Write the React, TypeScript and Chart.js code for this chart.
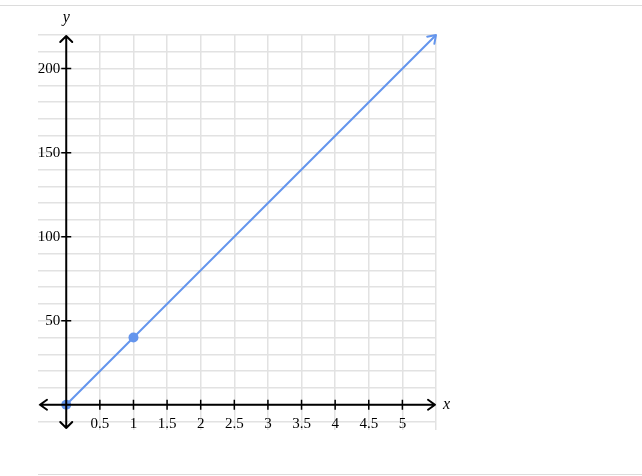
import React, { useEffect, useRef } from "react";
import { Chart, registerables } from "chart.js";

Chart.register(...registerables);

const linePoints = [
  { x: 0, y: 0 },
  { x: 5.5, y: 220 },
];
const markedPoints = [
  { x: 0, y: 0 },
  { x: 1, y: 40 },
];
const xTickLabels = [0.5, 1, 1.5, 2, 2.5, 3, 3.5, 4, 4.5, 5];
const yTickLabels = [50, 100, 150, 200];
const xGrid = [0.5, 1, 1.5, 2, 2.5, 3, 3.5, 4, 4.5, 5, 5.5];
const yGrid = [-10, 0, 10, 20, 30, 40, 50, 60, 70, 80, 90, 100, 110, 120, 130, 140, 150, 160, 170, 180, 190, 200, 210, 220];
const X_MIN = -0.42;
const X_MAX = 5.5;
const Y_MIN = -15;
const Y_MAX = 220;

const BLUE = "#6495ed";
const FONT = '15px "Liberation Serif", "DejaVu Serif", serif';
const FONT_IT = 'italic 16px "Liberation Serif", "DejaVu Serif", serif';

const axesPlugin = {
  id: "axesPlugin",
  beforeDraw(chart: any) {
    const ctx = chart.ctx;
    ctx.save();
    ctx.strokeStyle = "#dcdcdc";
    ctx.lineWidth = 1;
    ctx.beginPath();
    ctx.moveTo(0, 5.5);
    ctx.lineTo(642, 5.5);
    ctx.moveTo(38, 474.5);
    ctx.lineTo(642, 474.5);
    ctx.stroke();
    ctx.restore();
  },
  afterDatasetsDraw(chart: any) {
    const ctx = chart.ctx;
    const xs = chart.scales.x;
    const ys = chart.scales.y;
    const ca = chart.chartArea;
    const x0 = xs.getPixelForValue(0);
    const y0 = ys.getPixelForValue(0);
    ctx.save();
    ctx.strokeStyle = "#000";
    ctx.fillStyle = "#000";
    ctx.lineWidth = 2;
    ctx.lineCap = "round";
    ctx.lineJoin = "round";
    // x axis
    const xl = ca.left + 2;
    const xr = ca.right - 1;
    ctx.beginPath();
    ctx.moveTo(xl, y0);
    ctx.lineTo(xr, y0);
    ctx.moveTo(xl + 7, y0 - 5);
    ctx.lineTo(xl, y0);
    ctx.lineTo(xl + 7, y0 + 5);
    ctx.moveTo(xr - 7, y0 - 5);
    ctx.lineTo(xr, y0);
    ctx.lineTo(xr - 7, y0 + 5);
    // y axis
    const yt = ca.top + 1;
    const yb = ca.bottom - 2;
    ctx.moveTo(x0, yt);
    ctx.lineTo(x0, yb);
    ctx.moveTo(x0 - 6, yt + 6);
    ctx.lineTo(x0, yt);
    ctx.lineTo(x0 + 6, yt + 6);
    ctx.moveTo(x0 - 6, yb - 6);
    ctx.lineTo(x0, yb);
    ctx.lineTo(x0 + 6, yb - 6);
    ctx.stroke();

    // ticks
    ctx.lineWidth = 1.5;
    ctx.lineCap = "butt";
    ctx.beginPath();
    xTickLabels.forEach((v) => {
      const px = xs.getPixelForValue(v);
      ctx.moveTo(px, y0 - 5);
      ctx.lineTo(px, y0 + 5);
    });
    yTickLabels.forEach((v) => {
      const py = ys.getPixelForValue(v);
      ctx.moveTo(x0 - 5, py);
      ctx.lineTo(x0 + 5, py);
    });
    ctx.stroke();

    ctx.font = FONT;
    ctx.textAlign = "center";
    ctx.textBaseline = "alphabetic";
    xTickLabels.forEach((v) => {
      const px = xs.getPixelForValue(v);
      ctx.fillText(String(v), px, y0 + 23);
    });
    ctx.textAlign = "right";
    ctx.textBaseline = "middle";
    yTickLabels.forEach((v) => {
      const py = ys.getPixelForValue(v);
      ctx.fillText(String(v), x0 - 6, py);
    });
    ctx.font = FONT_IT;
    ctx.textAlign = "left";
    ctx.fillText("x", ca.right + 7, y0);
    ctx.textAlign = "center";
    ctx.fillText("y", x0, 18);

    // arrowhead on the line end
    const p1 = linePoints[linePoints.length - 2];
    const p2 = linePoints[linePoints.length - 1];
    const ax = xs.getPixelForValue(p2.x);
    const ay = ys.getPixelForValue(p2.y);
    const bx = xs.getPixelForValue(p1.x);
    const by = ys.getPixelForValue(p1.y);
    const ang = Math.atan2(ay - by, ax - bx);
    const L = 9;
    ctx.strokeStyle = BLUE;
    ctx.lineWidth = 2;
    ctx.lineCap = "round";
    ctx.beginPath();
    ctx.moveTo(ax + L * Math.cos(ang + Math.PI - 0.6), ay + L * Math.sin(ang + Math.PI - 0.6));
    ctx.lineTo(ax, ay);
    ctx.lineTo(ax + L * Math.cos(ang + Math.PI + 0.6), ay + L * Math.sin(ang + Math.PI + 0.6));
    ctx.stroke();
    ctx.restore();
  },
};

export default function App() {
  const ref = useRef<HTMLCanvasElement | null>(null);
  useEffect(() => {
    if (!ref.current) return;
    const chart = new Chart(ref.current, {
      type: "scatter",
      data: {
        datasets: [
          {
            data: linePoints,
            showLine: true,
            borderColor: BLUE,
            borderWidth: 2,
            pointRadius: 0,
            fill: false,
          },
          {
            data: markedPoints,
            showLine: false,
            pointRadius: 5,
            pointBackgroundColor: BLUE,
            pointBorderColor: BLUE,
            pointBorderWidth: 0,
          },
        ],
      },
      options: {
        responsive: false,
        animation: false,
        layout: { padding: { left: 38, top: 35, right: 206, bottom: 46 } },
        plugins: { legend: { display: false }, tooltip: { enabled: false } },
        scales: {
          x: {
            type: "linear",
            min: X_MIN,
            max: X_MAX,
            afterBuildTicks: (scale: any) => {
              scale.ticks = xGrid.map((v) => ({ value: v }));
            },
            ticks: { display: false },
            border: { display: false },
            grid: { color: "#e2e2e2", lineWidth: 1.5, drawTicks: false },
          },
          y: {
            type: "linear",
            min: Y_MIN,
            max: Y_MAX,
            afterBuildTicks: (scale: any) => {
              scale.ticks = yGrid.map((v) => ({ value: v }));
            },
            ticks: { display: false },
            border: { display: false },
            grid: { color: "#e2e2e2", lineWidth: 1.5, drawTicks: false },
          },
        },
      },
      plugins: [axesPlugin],
    });
    return () => chart.destroy();
  }, []);
  return (
    <div style={{ position: "absolute", left: 0, top: 0, width: 642, height: 476, background: "#fff" }}>
      <canvas ref={ref} width={642} height={476} />
    </div>
  );
}
